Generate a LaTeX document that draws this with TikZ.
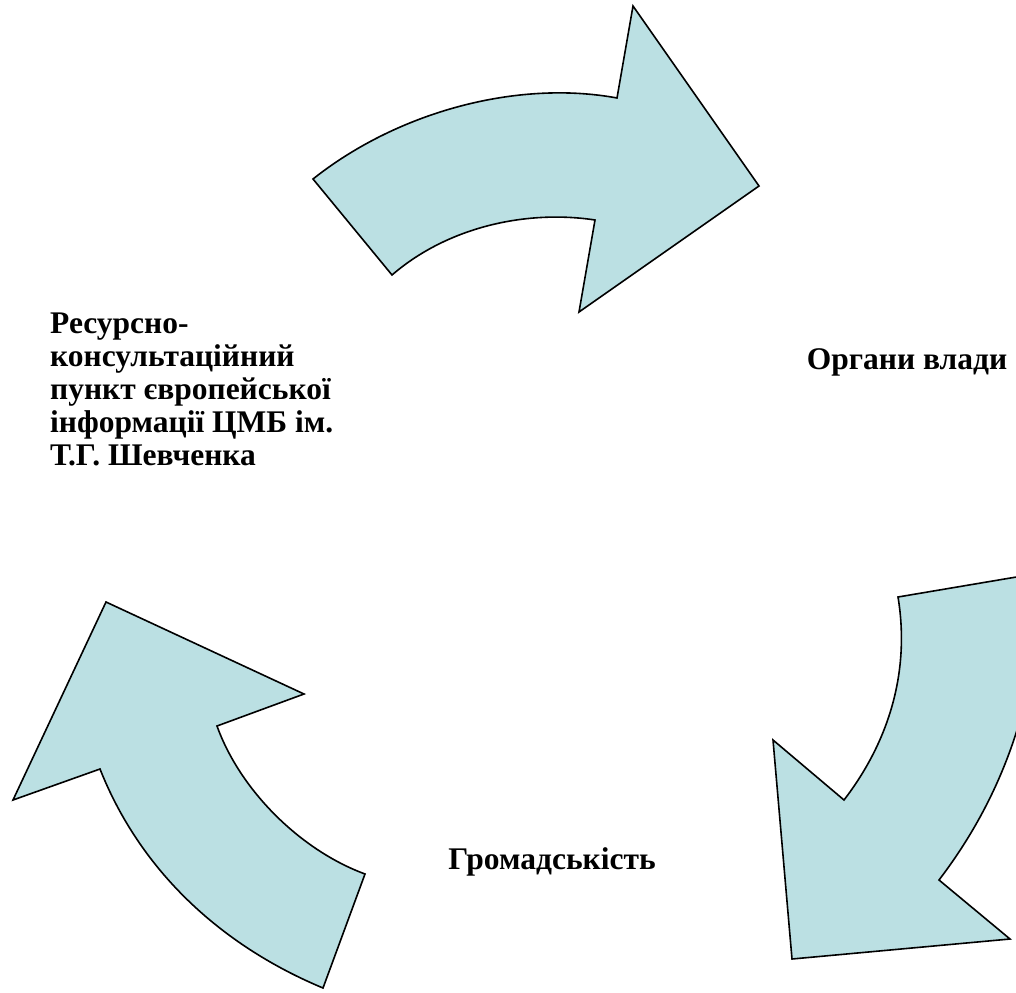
\documentclass[tikz,border=0pt]{standalone}
\usepackage{fontspec}
\setmainfont{Liberation Serif}
\usepackage{tikz}

\definecolor{arrowfill}{RGB}{187,224,227}

\tikzset{
  bigarrow/.style={fill=arrowfill, draw=black, line width=1.6pt, line join=miter},
  label/.style={draw=none, inner sep=0pt, font=\fontsize{31.5}{33}\selectfont\bfseries}
}

\begin{document}
\begin{tikzpicture}[x=1pt, y=-1pt]
  \useasboundingbox (0,0) rectangle (1016,992);
  \clip (0,0) rectangle (1016,992);

  % top arrow
  \draw[bigarrow] (313,179) .. controls (400,110) and (520,80) .. (617,98)
    -- (633,6) -- (759,186) -- (579,312) -- (595,220)
    .. controls (530,210) and (450,225) .. (392,275) -- cycle;

  % right arrow
  \draw[bigarrow] (898,597) -- (1040,573)
    .. controls (1040,700) and (1000,800) .. (939,880)
    -- (1010,939) -- (792,959) -- (773,740) -- (844,800)
    .. controls (890,740) and (910,670) .. (898,597) -- cycle;

  % left arrow
  \draw[bigarrow] (323,988) .. controls (220,945) and (140,870) .. (100,769)
    -- (13,800) -- (106,602) -- (304,694) -- (217,726)
    .. controls (240,790) and (300,850) .. (365,874) -- cycle;

  \node[label, anchor=north west, align=left] (rkp) at (50,313)
    {Ресурсно-\\консультаційний\\пункт європейської\\інформації ЦМБ ім.\\Т.Г. Шевченка};
  \node[label] (vlada) at (907,362) {Органи влади};
  \node[label] (hromada) at (552,862) {Громадськість};
\end{tikzpicture}
\end{document}
